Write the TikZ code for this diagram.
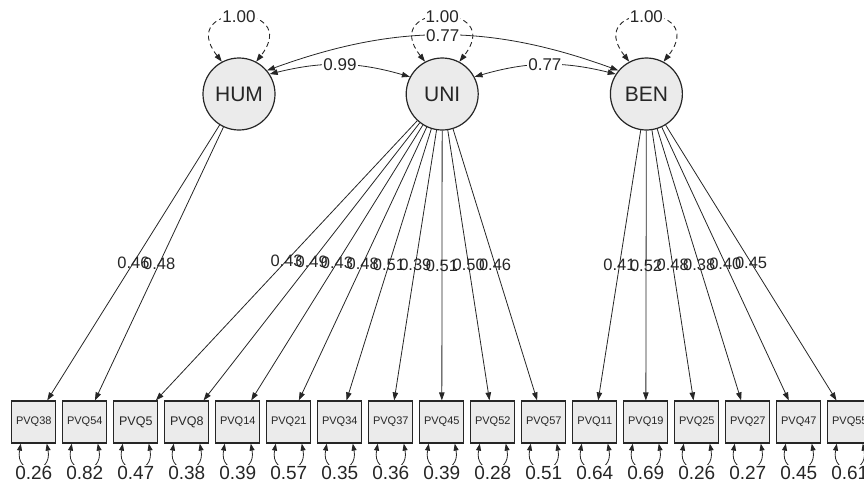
\documentclass[tikz,border=0pt]{standalone}
\usepackage{fontspec}
\setmainfont{Liberation Sans}
\usepackage{tikz}
\usetikzlibrary{positioning,arrows.meta,calc}
\definecolor{ink}{HTML}{262626}
\definecolor{nodebg}{HTML}{EBEBEB}

\begin{document}
\begin{tikzpicture}[
    x=1pt, y=-1pt,
    >={Triangle[length=8pt,width=5.5pt]},
    latent/.style={circle, draw=ink, line width=1.2pt, fill=nodebg, minimum size=72pt, inner sep=0pt, text=ink, font=\fontsize{21}{21}\selectfont},
    manifest/.style={rectangle, draw=ink, line width=1.2pt, fill=nodebg, minimum width=44pt, minimum height=42pt, inner sep=0pt, text=ink},
    loading/.style={->, draw=ink, line width=0.8pt},
    covar/.style={<->, draw=ink, line width=0.8pt},
    variance/.style={<->, draw=ink, line width=0.9pt, dash pattern=on 5pt off 3.5pt},
    resid/.style={{Triangle[length=7pt,width=5pt]}-{Triangle[length=7pt,width=5pt]}, draw=ink, line width=0.8pt},
    loadlab/.style={inner sep=0pt, text=ink, font=\fontsize{16.5}{16.5}\selectfont},
    covlab/.style={fill=white, inner sep=1pt, text=ink, font=\fontsize{17}{17}\selectfont},
    reslab/.style={fill=white, inner sep=1pt, text=ink, font=\fontsize{19}{19}\selectfont}
]
    \useasboundingbox (0,0) rectangle (864,483);

    % latent factors
    \node[latent] (HUM) at (239,94) {HUM};
    \node[latent, right=130pt of HUM] (UNI) {UNI};
    \node[latent, right=131pt of UNI] (BEN) {BEN};

    % indicators with residuals
    \foreach \n/\r/\s [count=\i from 0] in {38/0.26/11, 54/0.82/11, 5/0.47/12.5, 8/0.38/12.5, 14/0.39/11, 21/0.57/11, 34/0.35/11, 37/0.36/11, 45/0.39/11, 52/0.28/11, 57/0.51/11, 11/0.64/11, 19/0.69/11, 25/0.26/11, 27/0.27/11, 47/0.45/11, 55/0.61/11} {
        \node[manifest, font=\fontsize{\s}{\s}\selectfont] (PVQ\n) at ({33.8+51*\i}, 422) {PVQ\n};
        \draw[resid] ([xshift=-13pt]PVQ\n.south) .. controls +(-6,32) and +(6,32) .. ([xshift=13pt]PVQ\n.south);
        \node[reslab] (r\n) at ([yshift=-29pt]PVQ\n.south) {\r};
    }

    % loadings
    \foreach \lv/\n/\l in {HUM/38/0.46, HUM/54/0.48, UNI/5/0.43, UNI/8/0.49, UNI/14/0.43, UNI/21/0.48, UNI/34/0.51, UNI/37/0.39, UNI/45/0.51, UNI/52/0.50, UNI/57/0.46, BEN/11/0.41, BEN/19/0.52, BEN/25/0.48, BEN/27/0.38, BEN/47/0.40, BEN/55/0.45}
        \draw[loading] (\lv) -- node[loadlab] (l\n) {\l} (PVQ\n);

    % factor variances
    \foreach \lv in {HUM, UNI, BEN}
        \draw[variance] (\lv.118) .. controls +(-47,-60) and +(47,-60) .. node[covlab] (v\lv) {1.00} (\lv.62);

    % factor covariances
    \draw[covar] (HUM.33) to[bend left=15] node[covlab] (hu) {0.99} (UNI.152);
    \draw[covar] (UNI.28) to[bend left=15] node[covlab] (ub) {0.77} (BEN.147);
    \draw[covar] (HUM.40) to[bend left=20] node[covlab] (hb) {0.77} (BEN.140);
\end{tikzpicture}
\end{document}
